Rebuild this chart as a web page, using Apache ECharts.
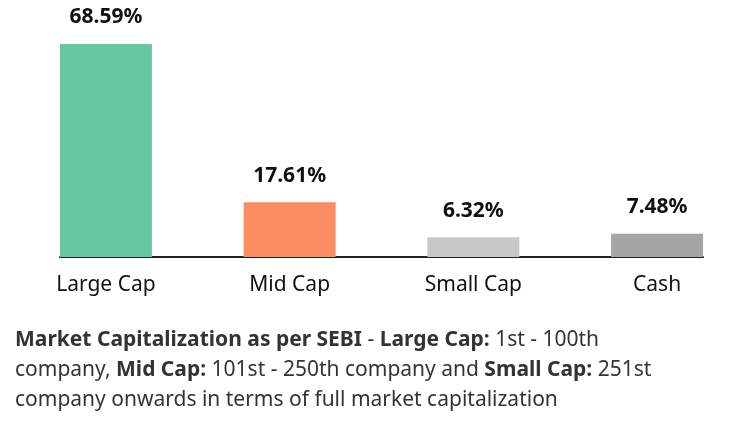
<!DOCTYPE html>
<html><head><meta charset="utf-8">
<script src="https://cdn.jsdelivr.net/npm/echarts@6/dist/echarts.min.js"></script>
<style>html,body{margin:0;padding:0;background:#fff}#c{width:736px;height:438px}</style>
</head><body><div id="c"></div>
<script>
let categories = ['Large Cap', 'Mid Cap', 'Small Cap', 'Cash']
let values = [68.59, 17.61, 6.32, 7.48]
let colors = ['#66c8a0', '#fc8d62', '#c8c8c8', '#a5a5a5']

let chart = echarts.init(document.getElementById('c'))
let font = 'Noto Sans'
let option = {
    animation: false,
    grid: {left: 60, right: 33, top: 44, bottom: 181},
    xAxis: {
        type: 'value', min: -0.25, max: 3.25,
        splitLine: {show: false},
        axisTick: {show: false},
        axisLine: {show: true, lineStyle: {color: '#222', width: 2}},
        axisLabel: {
            customValues: [0, 1, 2, 3],
            formatter: function (v) { return categories[Math.round(v)] },
            fontFamily: font, fontSize: 21, color: '#111', margin: 18
        }
    },
    yAxis: {type: 'value', min: 0, max: 68.59, show: false},
    series: [{
        type: 'bar',
        barWidth: 92,
        data: values.map(function (v, i) {
            return {value: [i, v], itemStyle: {color: colors[i]}}
        }),
        label: {
            show: true, position: 'top', distance: 16,
            fontFamily: font, fontSize: 21, fontWeight: 'bold', color: '#111',
            formatter: function (p) { return p.value[1].toFixed(2) + '%' }
        }
    }],
    graphic: [{
        type: 'text', left: 15, top: 330,
        style: {
            rich: {
                b: {fontFamily: font, fontSize: 21, fontWeight: 'bold', fill: '#333', lineHeight: 30},
                n: {fontFamily: font, fontSize: 21, fill: '#333', lineHeight: 30}
            },
            text: '{b|Market Capitalization as per SEBI}{n| - }{b|Large Cap:}{n| 1st - 100th}\n' +
                  '{n|company, }{b|Mid Cap:}{n| 101st - 250th company and }{b|Small Cap:}{n| 251st}\n' +
                  '{n|company onwards in terms of full market capitalization}'
        }
    }]
}
chart.setOption(option)
</script></body></html>
